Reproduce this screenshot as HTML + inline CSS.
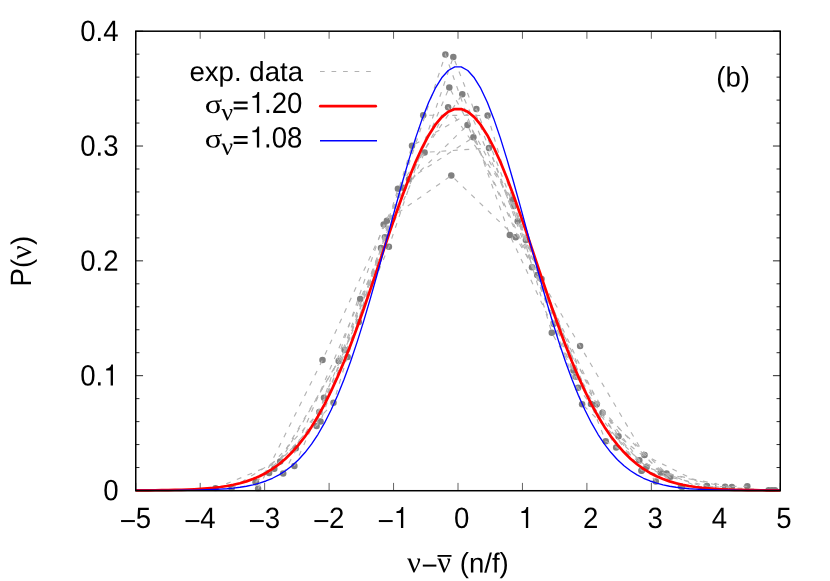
<!DOCTYPE html>
<html><head><meta charset="utf-8"><title>plot</title>
<style>
html,body{margin:0;padding:0;background:#fff;}
body{width:830px;height:581px;overflow:hidden;}
svg{display:block;will-change:transform}
text{font-family:"Liberation Sans",sans-serif;fill:#000;}
.sym{font-family:"Liberation Serif",serif;}
</style></head><body>
<svg width="830" height="581" viewBox="0 0 830 581">
<rect width="830" height="581" fill="#fff"/>

<g stroke="#000" stroke-width="0.85" fill="none">
<path d="M135.75,490.50h7.3M780.25,490.50h-7.3"/>
<path d="M135.75,467.54h3.7M780.25,467.54h-3.7"/>
<path d="M135.75,444.57h3.7M780.25,444.57h-3.7"/>
<path d="M135.75,421.61h3.7M780.25,421.61h-3.7"/>
<path d="M135.75,398.64h3.7M780.25,398.64h-3.7"/>
<path d="M135.75,375.68h7.3M780.25,375.68h-7.3"/>
<path d="M135.75,352.71h3.7M780.25,352.71h-3.7"/>
<path d="M135.75,329.75h3.7M780.25,329.75h-3.7"/>
<path d="M135.75,306.78h3.7M780.25,306.78h-3.7"/>
<path d="M135.75,283.82h3.7M780.25,283.82h-3.7"/>
<path d="M135.75,260.85h7.3M780.25,260.85h-7.3"/>
<path d="M135.75,237.89h3.7M780.25,237.89h-3.7"/>
<path d="M135.75,214.92h3.7M780.25,214.92h-3.7"/>
<path d="M135.75,191.95h3.7M780.25,191.95h-3.7"/>
<path d="M135.75,168.99h3.7M780.25,168.99h-3.7"/>
<path d="M135.75,146.03h7.3M780.25,146.03h-7.3"/>
<path d="M135.75,123.06h3.7M780.25,123.06h-3.7"/>
<path d="M135.75,100.10h3.7M780.25,100.10h-3.7"/>
<path d="M135.75,77.13h3.7M780.25,77.13h-3.7"/>
<path d="M135.75,54.17h3.7M780.25,54.17h-3.7"/>
<path d="M135.75,31.20h7.3M780.25,31.20h-7.3"/>
<path stroke-width="0.62" d="M135.75,490.5v-7.6M135.75,31.2v7.6"/>
<path stroke-width="0.62" d="M200.20,490.5v-7.6M200.20,31.2v7.6"/>
<path stroke-width="0.62" d="M264.65,490.5v-7.6M264.65,31.2v7.6"/>
<path stroke-width="0.62" d="M329.10,490.5v-7.6M329.10,31.2v7.6"/>
<path stroke-width="0.62" d="M393.55,490.5v-7.6M393.55,31.2v7.6"/>
<path stroke-width="0.62" d="M458.00,490.5v-7.6M458.00,31.2v7.6"/>
<path stroke-width="0.62" d="M522.45,490.5v-7.6M522.45,31.2v7.6"/>
<path stroke-width="0.62" d="M586.90,490.5v-7.6M586.90,31.2v7.6"/>
<path stroke-width="0.62" d="M651.35,490.5v-7.6M651.35,31.2v7.6"/>
<path stroke-width="0.62" d="M715.80,490.5v-7.6M715.80,31.2v7.6"/>
<path stroke-width="0.62" d="M780.25,490.5v-7.6M780.25,31.2v7.6"/>
</g>
<clipPath id="cp"><rect x="135.75" y="31.2" width="644.5" height="460.1"/></clipPath>
<g fill="#808080" clip-path="url(#cp)">
<circle cx="316.6" cy="426.0" r="3.25"/>
<circle cx="381.0" cy="248.0" r="3.25"/>
<circle cx="445.4" cy="54.6" r="3.25"/>
<circle cx="509.8" cy="235.1" r="3.25"/>
<circle cx="573.5" cy="370.5" r="3.25"/>
<circle cx="639.3" cy="460.3" r="3.25"/>
<circle cx="768.6" cy="490.2" r="3.25"/>
<circle cx="324.0" cy="397.8" r="3.25"/>
<circle cx="388.9" cy="246.8" r="3.25"/>
<circle cx="453.3" cy="56.9" r="3.25"/>
<circle cx="517.7" cy="221.3" r="3.25"/>
<circle cx="582.1" cy="404.2" r="3.25"/>
<circle cx="646.5" cy="467.0" r="3.25"/>
<circle cx="775.0" cy="490.2" r="3.25"/>
<circle cx="256.0" cy="482.1" r="3.25"/>
<circle cx="320.5" cy="421.6" r="3.25"/>
<circle cx="384.9" cy="237.3" r="3.25"/>
<circle cx="449.3" cy="87.5" r="3.25"/>
<circle cx="513.7" cy="206.1" r="3.25"/>
<circle cx="578.1" cy="387.8" r="3.25"/>
<circle cx="641.7" cy="470.5" r="3.25"/>
<circle cx="706.9" cy="485.9" r="3.25"/>
<circle cx="269.1" cy="472.9" r="3.25"/>
<circle cx="333.5" cy="402.8" r="3.25"/>
<circle cx="397.9" cy="188.8" r="3.25"/>
<circle cx="462.3" cy="94.3" r="3.25"/>
<circle cx="525.9" cy="240.1" r="3.25"/>
<circle cx="591.0" cy="403.9" r="3.25"/>
<circle cx="655.8" cy="481.4" r="3.25"/>
<circle cx="255.6" cy="482.3" r="3.25"/>
<circle cx="319.3" cy="412.0" r="3.25"/>
<circle cx="383.7" cy="224.6" r="3.25"/>
<circle cx="448.1" cy="107.3" r="3.25"/>
<circle cx="512.5" cy="199.4" r="3.25"/>
<circle cx="575.8" cy="376.8" r="3.25"/>
<circle cx="641.5" cy="470.8" r="3.25"/>
<circle cx="283.2" cy="473.5" r="3.25"/>
<circle cx="347.6" cy="357.1" r="3.25"/>
<circle cx="412.0" cy="145.8" r="3.25"/>
<circle cx="476.4" cy="109.0" r="3.25"/>
<circle cx="541.5" cy="279.1" r="3.25"/>
<circle cx="605.7" cy="441.2" r="3.25"/>
<circle cx="670.5" cy="476.8" r="3.25"/>
<circle cx="294.4" cy="466.1" r="3.25"/>
<circle cx="358.8" cy="321.9" r="3.25"/>
<circle cx="423.2" cy="115.2" r="3.25"/>
<circle cx="487.6" cy="115.5" r="3.25"/>
<circle cx="551.8" cy="332.7" r="3.25"/>
<circle cx="616.2" cy="447.5" r="3.25"/>
<circle cx="681.0" cy="486.5" r="3.25"/>
<circle cx="274.3" cy="468.8" r="3.25"/>
<circle cx="338.7" cy="361.0" r="3.25"/>
<circle cx="403.1" cy="187.7" r="3.25"/>
<circle cx="467.5" cy="125.0" r="3.25"/>
<circle cx="532.0" cy="267.2" r="3.25"/>
<circle cx="596.7" cy="404.3" r="3.25"/>
<circle cx="660.7" cy="472.6" r="3.25"/>
<circle cx="725.1" cy="486.8" r="3.25"/>
<circle cx="215.5" cy="488.3" r="3.25"/>
<circle cx="280.2" cy="461.5" r="3.25"/>
<circle cx="344.6" cy="350.0" r="3.25"/>
<circle cx="409.0" cy="179.2" r="3.25"/>
<circle cx="473.4" cy="137.3" r="3.25"/>
<circle cx="537.2" cy="275.1" r="3.25"/>
<circle cx="602.5" cy="412.8" r="3.25"/>
<circle cx="666.6" cy="473.6" r="3.25"/>
<circle cx="731.8" cy="487.1" r="3.25"/>
<circle cx="231.6" cy="488.3" r="3.25"/>
<circle cx="295.8" cy="448.2" r="3.25"/>
<circle cx="360.2" cy="299.0" r="3.25"/>
<circle cx="424.6" cy="152.4" r="3.25"/>
<circle cx="489.0" cy="148.0" r="3.25"/>
<circle cx="553.7" cy="323.7" r="3.25"/>
<circle cx="618.5" cy="436.3" r="3.25"/>
<circle cx="682.2" cy="487.0" r="3.25"/>
<circle cx="747.3" cy="486.3" r="3.25"/>
<circle cx="258.1" cy="488.7" r="3.25"/>
<circle cx="322.5" cy="360.0" r="3.25"/>
<circle cx="386.9" cy="220.7" r="3.25"/>
<circle cx="451.3" cy="175.6" r="3.25"/>
<circle cx="515.7" cy="237.2" r="3.25"/>
<circle cx="580.1" cy="346.0" r="3.25"/>
<circle cx="644.5" cy="455.1" r="3.25"/>
<circle cx="707.0" cy="486.2" r="3.25"/>
<circle cx="772.0" cy="490.2" r="3.25"/>
</g>
<g fill="none" stroke="#b2b2b2" stroke-width="1.15" stroke-dasharray="4.9,6.63">
<polyline points="316.6,426.0 381.0,248.0 445.4,54.6 509.8,235.1 573.5,370.5 639.3,460.3 703.0,489.3 768.6,490.2"/>
<polyline points="324.0,397.8 388.9,246.8 453.3,56.9 517.7,221.3 582.1,404.2 646.5,467.0 710.9,489.5 775.0,490.2"/>
<polyline points="256.0,482.1 320.5,421.6 384.9,237.3 449.3,87.5 513.7,206.1 578.1,387.8 641.7,470.5 706.9,485.9"/>
<polyline points="269.1,472.9 333.5,402.8 397.9,188.8 462.3,94.3 525.9,240.1 591.0,403.9 655.8,481.4"/>
<polyline points="255.6,482.3 319.3,412.0 383.7,224.6 448.1,107.3 512.5,199.4 575.8,376.8 641.5,470.8"/>
<polyline points="283.2,473.5 347.6,357.1 412.0,145.8 476.4,109.0 541.5,279.1 605.7,441.2 670.5,476.8"/>
<polyline points="294.4,466.1 358.8,321.9 423.2,115.2 487.6,115.5 551.8,332.7 616.2,447.5 681.0,486.5"/>
<polyline points="274.3,468.8 338.7,361.0 403.1,187.7 467.5,125.0 532.0,267.2 596.7,404.3 660.7,472.6 725.1,486.8"/>
<polyline points="215.5,488.3 280.2,461.5 344.6,350.0 409.0,179.2 473.4,137.3 537.2,275.1 602.5,412.8 666.6,473.6 731.8,487.1"/>
<polyline points="231.6,488.3 295.8,448.2 360.2,299.0 424.6,152.4 489.0,148.0 553.7,323.7 618.5,436.3 682.2,487.0 747.3,486.3"/>
<polyline points="258.1,488.7 322.5,360.0 386.9,220.7 451.3,175.6 515.7,237.2 580.1,346.0 644.5,455.1 707.0,486.2 772.0,490.2"/>
</g>
<polyline fill="none" stroke="#ff0000" stroke-width="2.7" stroke-linejoin="round" points="135.75,490.36 142.26,490.33 148.77,490.29 155.28,490.24 161.79,490.17 168.30,490.08 174.81,489.95 181.32,489.79 187.83,489.57 194.34,489.28 200.85,488.90 207.36,488.42 213.87,487.80 220.38,487.02 226.89,486.03 233.40,484.79 239.91,483.26 246.42,481.37 252.93,479.07 259.44,476.28 265.95,472.93 272.46,468.94 278.97,464.23 285.48,458.71 291.99,452.29 298.50,444.91 305.01,436.47 311.52,426.92 318.03,416.21 324.54,404.30 331.05,391.19 337.56,376.89 344.07,361.45 350.58,344.94 357.09,327.47 363.60,309.20 370.11,290.30 376.62,271.00 383.13,251.52 389.64,232.16 396.15,213.20 402.66,194.94 409.17,177.71 415.68,161.81 422.19,147.54 428.70,135.17 435.21,124.96 441.72,117.11 448.23,111.78 454.74,109.09 461.26,109.09 467.77,111.78 474.28,117.11 480.79,124.96 487.30,135.17 493.81,147.54 500.32,161.81 506.83,177.71 513.34,194.94 519.85,213.20 526.36,232.16 532.87,251.52 539.38,271.00 545.89,290.30 552.40,309.20 558.91,327.47 565.42,344.94 571.93,361.45 578.44,376.89 584.95,391.19 591.46,404.30 597.97,416.21 604.48,426.92 610.99,436.47 617.50,444.91 624.01,452.29 630.52,458.71 637.03,464.23 643.54,468.94 650.05,472.93 656.56,476.28 663.07,479.07 669.58,481.37 676.09,483.26 682.60,484.79 689.11,486.03 695.62,487.02 702.13,487.80 708.64,488.42 715.15,488.90 721.66,489.28 728.17,489.57 734.68,489.79 741.19,489.95 747.70,490.08 754.21,490.17 760.72,490.24 767.23,490.29 773.74,490.33 780.25,490.36"/>
<polyline fill="none" stroke="#0000ff" stroke-width="1.35" stroke-linejoin="round" points="135.75,490.41 142.26,490.41 148.77,490.40 155.28,490.39 161.79,490.37 168.30,490.35 174.81,490.31 181.32,490.26 187.83,490.19 194.34,490.10 200.85,489.96 207.36,489.77 213.87,489.52 220.38,489.17 226.89,488.71 233.40,488.09 239.91,487.29 246.42,486.24 252.93,484.89 259.44,483.17 265.95,480.99 272.46,478.27 278.97,474.90 285.48,470.76 291.99,465.74 298.50,459.71 305.01,452.54 311.52,444.09 318.03,434.26 324.54,422.94 331.05,410.04 337.56,395.50 344.07,379.32 350.58,361.50 357.09,342.14 363.60,321.34 370.11,299.32 376.62,276.30 383.13,252.60 389.64,228.58 396.15,204.65 402.66,181.24 409.17,158.83 415.68,137.89 422.19,118.90 428.70,102.29 435.21,88.46 441.72,77.78 448.23,70.49 454.74,66.80 461.26,66.80 467.77,70.49 474.28,77.78 480.79,88.46 487.30,102.29 493.81,118.90 500.32,137.89 506.83,158.83 513.34,181.24 519.85,204.65 526.36,228.58 532.87,252.60 539.38,276.30 545.89,299.32 552.40,321.34 558.91,342.14 565.42,361.50 571.93,379.32 578.44,395.50 584.95,410.04 591.46,422.94 597.97,434.26 604.48,444.09 610.99,452.54 617.50,459.71 624.01,465.74 630.52,470.76 637.03,474.90 643.54,478.27 650.05,480.99 656.56,483.17 663.07,484.89 669.58,486.24 676.09,487.29 682.60,488.09 689.11,488.71 695.62,489.17 702.13,489.52 708.64,489.77 715.15,489.96 721.66,490.10 728.17,490.19 734.68,490.26 741.19,490.31 747.70,490.35 754.21,490.37 760.72,490.39 767.23,490.40 773.74,490.41 780.25,490.41"/>
<rect x="135.75" y="31.2" width="644.5" height="459.52000000000004" fill="none" stroke="#000" stroke-width="1.5"/>
<text transform="translate(103.25,500.30) rotate(0.03) scale(1.0,1.065)" font-size="27.6" text-anchor="start">0</text>
<text transform="translate(80.23,385.48) rotate(0.03) scale(1.0,1.065)" font-size="27.6" text-anchor="start">0.</text><path transform="translate(103.25,385.48) scale(0.02760,-0.02939)" d="M268,0V512H106V572C200,576 272,612 294,712H352V0Z" fill="#000"/>
<text transform="translate(80.23,270.65) rotate(0.03) scale(1.0,1.065)" font-size="27.6" text-anchor="start">0.2</text>
<text transform="translate(80.23,155.82) rotate(0.03) scale(1.0,1.065)" font-size="27.6" text-anchor="start">0.3</text>
<text transform="translate(80.23,41.00) rotate(0.03) scale(1.0,1.065)" font-size="27.6" text-anchor="start">0.4</text>
<path transform="translate(120.40,528.00) scale(0.02760,-0.02939)" d="M24,202H525V270H24Z" fill="#000"/><text transform="translate(135.75,528.00) rotate(0.03) scale(1.0,1.065)" font-size="27.6" text-anchor="start">5</text>
<path transform="translate(184.85,528.00) scale(0.02760,-0.02939)" d="M24,202H525V270H24Z" fill="#000"/><text transform="translate(200.20,528.00) rotate(0.03) scale(1.0,1.065)" font-size="27.6" text-anchor="start">4</text>
<path transform="translate(249.30,528.00) scale(0.02760,-0.02939)" d="M24,202H525V270H24Z" fill="#000"/><text transform="translate(264.65,528.00) rotate(0.03) scale(1.0,1.065)" font-size="27.6" text-anchor="start">3</text>
<path transform="translate(313.75,528.00) scale(0.02760,-0.02939)" d="M24,202H525V270H24Z" fill="#000"/><text transform="translate(329.10,528.00) rotate(0.03) scale(1.0,1.065)" font-size="27.6" text-anchor="start">2</text>
<path transform="translate(378.20,528.00) scale(0.02760,-0.02939)" d="M24,202H525V270H24Z" fill="#000"/><path transform="translate(393.55,528.00) scale(0.02760,-0.02939)" d="M268,0V512H106V572C200,576 272,612 294,712H352V0Z" fill="#000"/>
<text transform="translate(454.03,528.00) rotate(0.03) scale(1.0,1.065)" font-size="27.6" text-anchor="start">0</text>
<path transform="translate(518.48,528.00) scale(0.02760,-0.02939)" d="M268,0V512H106V572C200,576 272,612 294,712H352V0Z" fill="#000"/>
<text transform="translate(582.93,528.00) rotate(0.03) scale(1.0,1.065)" font-size="27.6" text-anchor="start">2</text>
<text transform="translate(647.38,528.00) rotate(0.03) scale(1.0,1.065)" font-size="27.6" text-anchor="start">3</text>
<text transform="translate(711.83,528.00) rotate(0.03) scale(1.0,1.065)" font-size="27.6" text-anchor="start">4</text>
<text transform="translate(776.28,528.00) rotate(0.03) scale(1.0,1.065)" font-size="27.6" text-anchor="start">5</text>
<g transform="translate(31,263.6) rotate(-90)"><text transform="translate(-22.80,0.00) rotate(0.03) scale(1.0,1.065)" font-size="27.6" text-anchor="start">P</text><text transform="translate(-4.39,0.00) rotate(0.03) scale(1.0,1.025)" font-size="27.6" text-anchor="start">(</text><text class="sym" transform="translate(4.3,0) rotate(0.03) scale(1.03,1.0)" font-size="30.0">ν</text><text transform="translate(18.60,0.00) rotate(0.03) scale(1.0,1.025)" font-size="27.6" text-anchor="start">)</text></g>
<text class="sym" transform="translate(407.0,572.2) rotate(0.03) scale(1.02,1.0)" font-size="30.2">ν</text>
<path d="M422.8,565.6H436.4" stroke="#000" stroke-width="2.0"/>
<text class="sym" transform="translate(437.3,572.2) rotate(0.03) scale(1.0,1.0)" font-size="30.2">ν</text>
<path d="M437.5,555.9H451.5" stroke="#000" stroke-width="1.8"/>
<text transform="translate(459.70,572.60) rotate(0.03) scale(1.0,1.025)" font-size="27.6" text-anchor="start">(</text><text transform="translate(468.89,572.60) rotate(0.03) scale(1.0,1.0)" font-size="27.6" text-anchor="start">n/f</text><text transform="translate(499.58,572.60) rotate(0.03) scale(1.0,1.025)" font-size="27.6" text-anchor="start">)</text>
<text transform="translate(716.27,86.60) rotate(0.03) scale(1.0,1.025)" font-size="27.6" text-anchor="start">(</text><text transform="translate(725.46,86.60) rotate(0.03) scale(1.0,1.0)" font-size="27.6" text-anchor="start">b</text><text transform="translate(740.81,86.60) rotate(0.03) scale(1.0,1.025)" font-size="27.6" text-anchor="start">)</text>
<text transform="translate(303.00,81.00) rotate(0.03) scale(1.0,1.0)" font-size="27.6" text-anchor="end">exp. data</text>
<text class="sym" transform="translate(204.7,112.9) rotate(0.03) scale(1.2,1.0)" font-size="27.0">σ</text>
<text class="sym" transform="translate(221.5,120.30000000000001) rotate(0.03) scale(1.05,1.0)" font-size="24.3">ν</text>
<path transform="translate(232.56,112.90) scale(0.02760,-0.02939)" d="M39,112H545V192H39ZM39,308H545V388H39Z" fill="#000"/><path transform="translate(249.48,112.90) scale(0.02760,-0.02939)" d="M268,0V512H106V572C200,576 272,612 294,712H352V0Z" fill="#000"/><text transform="translate(264.03,112.90) rotate(0.03) scale(1.0,1.065)" font-size="27.6" text-anchor="start">.20</text>
<text class="sym" transform="translate(204.7,147.4) rotate(0.03) scale(1.2,1.0)" font-size="27.0">σ</text>
<text class="sym" transform="translate(221.5,154.8) rotate(0.03) scale(1.05,1.0)" font-size="24.3">ν</text>
<path transform="translate(232.56,147.40) scale(0.02760,-0.02939)" d="M39,112H545V192H39ZM39,308H545V388H39Z" fill="#000"/><path transform="translate(249.48,147.40) scale(0.02760,-0.02939)" d="M268,0V512H106V572C200,576 272,612 294,712H352V0Z" fill="#000"/><text transform="translate(264.03,147.40) rotate(0.03) scale(1.0,1.065)" font-size="27.6" text-anchor="start">.08</text>
<path d="M320,71.5H372" stroke="#b2b2b2" stroke-width="1.15" stroke-dasharray="4.7,6.83" fill="none"/>
<path d="M320.3,106.2H375.7" stroke="#ff0000" stroke-width="2.7" stroke-linecap="round" fill="none"/>
<path d="M320,140.7H377" stroke="#0000ff" stroke-width="1.35" fill="none"/>
</svg></body></html>
